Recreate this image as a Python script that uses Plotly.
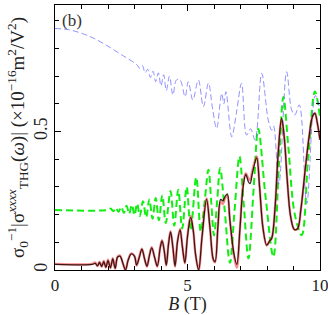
import plotly.graph_objects as go

# ---- data ----
b_black = [0, 1.40, 1.52, 1.60, 1.68, 1.76, 1.84, 1.92, 2.00, 2.09, 2.18, 2.27, 2.36, 2.45, 2.56, 2.66,
           2.76, 2.88, 3.00, 3.08, 3.18, 3.28, 3.38, 3.47, 3.56, 3.65, 3.76, 3.86, 3.97, 4.04, 4.12,
           4.20, 4.28, 4.36, 4.45, 4.53, 4.62, 4.72, 4.80, 4.90, 5.00, 5.12, 5.22, 5.30, 5.42, 5.55,
           5.72, 5.85, 5.97, 6.04, 6.15, 6.25, 6.33, 6.40, 6.50, 6.60, 6.75, 6.86, 6.98, 7.10, 7.20,
           7.30, 7.36, 7.45, 7.61, 7.72, 7.85, 7.99, 8.10, 8.18, 8.30, 8.42, 8.55, 8.65, 8.76, 8.88,
           9.00, 9.06, 9.16, 9.28, 9.45, 9.60, 9.72, 9.81, 9.90, 10.0]
v_black = [0.02, 0.02, 0.024, 0.015, 0.027, 0.013, 0.03, 0.01, 0.034, 0.008, 0.04, 0.006, 0.046, 0.05, 0.025, 0.0,
           0.035, 0.058, 0.05, 0.018, 0.045, 0.075, 0.04, 0.014, 0.05, 0.08, 0.045, 0.014, 0.08, 0.105, 0.07,
           0.018, 0.09, 0.138, 0.08, 0.014, 0.10, 0.145, 0.09, 0.026, 0.12, 0.19, 0.14, 0.06, 0.0, 0.12,
           0.255, 0.15, 0.04, 0.03, 0.16, 0.255, 0.25, 0.262, 0.275, 0.18, 0.06, 0.02, 0.15, 0.30, 0.345,
           0.318, 0.312, 0.35, 0.405, 0.30, 0.15, 0.09, 0.105, 0.115, 0.22, 0.42, 0.548, 0.48, 0.33, 0.20,
           0.15, 0.145, 0.15, 0.22, 0.37, 0.49, 0.555, 0.566, 0.53, 0.47]

b_red = b_black
v_red = [0.022, 0.022, 0.027, 0.014, 0.03, 0.012, 0.033, 0.009, 0.037, 0.007, 0.043, 0.005, 0.048, 0.052, 0.024, 0.0,
         0.037, 0.06, 0.05, 0.016, 0.048, 0.077, 0.04, 0.012, 0.053, 0.082, 0.045, 0.012, 0.083, 0.108, 0.07,
         0.016, 0.093, 0.14, 0.08, 0.012, 0.103, 0.148, 0.09, 0.024, 0.124, 0.195, 0.14, 0.058, 0.0, 0.122,
         0.258, 0.15, 0.038, 0.028, 0.16, 0.245, 0.238, 0.255, 0.27, 0.18, 0.055, 0.008, 0.15, 0.31, 0.35,
         0.33, 0.325, 0.36, 0.41, 0.30, 0.15, 0.088, 0.105, 0.115, 0.22, 0.42, 0.545, 0.48, 0.33, 0.20,
         0.15, 0.145, 0.15, 0.22, 0.37, 0.49, 0.555, 0.566, 0.53, 0.47]

b_green = [0, 2.00, 2.10, 2.20, 2.30, 2.40, 2.50, 2.60, 2.70, 2.80, 2.90, 3.00, 3.10, 3.20, 3.32, 3.44,
           3.56, 3.68, 3.80, 3.92, 4.05, 4.18, 4.36, 4.50, 4.65, 4.80, 4.97, 5.12, 5.33, 5.50, 5.65,
           5.79, 5.90, 6.00, 6.12, 6.23, 6.40, 6.60, 6.78, 6.96, 7.12, 7.30, 7.50, 7.67, 7.95, 8.24,
           8.45, 8.62, 8.80, 9.05, 9.31, 9.55, 9.81, 10.0]
v_green = [0.217, 0.217, 0.222, 0.212, 0.225, 0.21, 0.228, 0.206, 0.232, 0.203, 0.236, 0.198, 0.24, 0.195, 0.248, 0.19,
           0.255, 0.185, 0.26, 0.18, 0.27, 0.17, 0.285, 0.16, 0.29, 0.15, 0.30, 0.144, 0.335, 0.138, 0.25,
           0.362, 0.24, 0.125, 0.25, 0.368, 0.22, 0.026, 0.22, 0.41, 0.24, 0.042, 0.30, 0.51, 0.26, 0.048,
           0.38, 0.625, 0.45, 0.20, 0.126, 0.40, 0.645, 0.55]

b_blue = [0, 0.5, 1.0, 1.5, 2.0, 2.5, 3.0, 3.1, 3.2, 3.3, 3.4, 3.5, 3.6, 3.7, 3.8, 3.9, 4.0, 4.1, 4.2,
          4.32, 4.45, 4.58, 4.72, 4.91, 5.03, 5.20, 5.41, 5.60, 5.79, 5.95, 6.10, 6.29, 6.37, 6.45,
          6.67, 6.85, 7.04, 7.23, 7.38, 7.55, 7.80, 8.05, 8.18, 8.25, 8.45, 8.74, 8.93, 9.05, 9.22,
          9.50, 9.82, 10.0]
v_blue = [0.872, 0.868, 0.855, 0.835, 0.808, 0.778, 0.748, 0.74, 0.728, 0.738, 0.712, 0.725, 0.695, 0.718, 0.68, 0.712, 0.665, 0.705, 0.648,
          0.70, 0.632, 0.686, 0.686, 0.626, 0.68, 0.614, 0.686, 0.59, 0.675, 0.58, 0.511, 0.638, 0.60, 0.644,
          0.481, 0.57, 0.674, 0.487, 0.51, 0.469, 0.71, 0.54, 0.505, 0.52, 0.31, 0.716, 0.578, 0.56, 0.596,
          0.24, 0.63, 0.58]

x_ticks = [0, 5, 10]
y_ticks = [0, 0.5]

fig = go.Figure()
fig.add_trace(go.Scatter(x=b_green, y=v_green, mode="lines",
                         line=dict(color="#11ee11", width=2, dash="7px,4px", shape="spline", smoothing=1.0)))
fig.add_trace(go.Scatter(x=b_blue, y=v_blue, mode="lines",
                         line=dict(color="rgba(110,110,255,0.75)", width=1, dash="6px,3px", shape="spline", smoothing=1.0)))
fig.add_trace(go.Scatter(x=b_red, y=v_red, mode="lines",
                         line=dict(color="rgba(240,60,60,0.6)", width=2.4, shape="spline", smoothing=1.0)))
fig.add_trace(go.Scatter(x=b_black, y=v_black, mode="lines",
                         line=dict(color="rgba(30,0,0,0.85)", width=1.3, shape="spline", smoothing=1.0)))

serif = "Liberation Serif, DejaVu Serif, serif"
font = dict(family=serif, size=18, color="#222")
xfont = dict(family=serif, size=17, color="#222")
axis_common = dict(showline=True, linecolor="black", linewidth=1, mirror="ticks",
                   ticks="inside", ticklen=6, tickcolor="black", showgrid=False, zeroline=False,
                   ticklabeloverflow="allow", automargin=False)
fig.update_xaxes(range=[0, 10], tickvals=x_ticks, ticktext=[str(t) for t in x_ticks], tickfont=xfont,
                 minor=dict(dtick=1, ticks="inside", ticklen=4, tickcolor="black"),
                 title=dict(text="<i>B</i> (T)", font=font, standoff=3), **axis_common)
fig.update_yaxes(range=[0, 0.957], tickvals=y_ticks, ticktext=["0", "0.5"], tickangle=-90, tickfont=font,
                 minor=dict(dtick=0.1, ticks="inside", ticklen=4, tickcolor="black"),
                 title=dict(text="σ<sub>0</sub><sup>−1</sup>|σ<sup><i>xxxx</i></sup><sub>THG</sub>(<i>ω</i>)| (×10<sup>−16</sup>m<sup>2</sup>/V<sup>2</sup>)",
                            font=dict(family=serif, size=19, color="#222"),
                            standoff=1), **axis_common)
fig.add_annotation(text="(b)", x=0.02, y=0.985, xref="paper", yref="paper", xanchor="left", yanchor="top",
                   showarrow=False, font=dict(family=serif, size=17, color="#333"))
fig.update_layout(width=328, height=315, margin=dict(l=55, r=8, t=5, b=45),
                  plot_bgcolor="white", paper_bgcolor="white", showlegend=False)
fig.write_html("out.html", config={"displayModeBar": False},
               post_script="document.body.style.margin='0';document.body.style.overflow='hidden';")
